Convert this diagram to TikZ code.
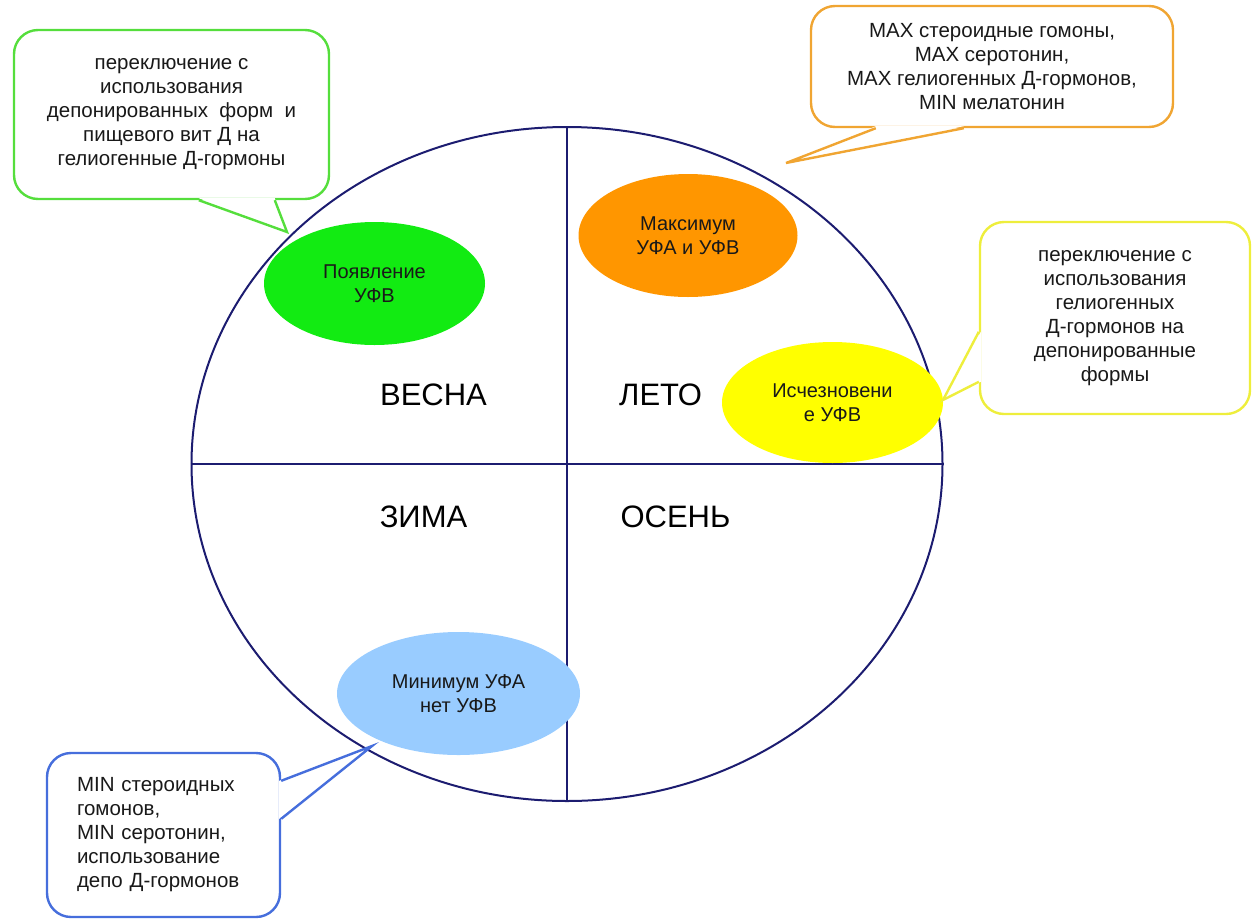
\documentclass[tikz,border=0pt]{standalone}
\usepackage{fontspec}
\setmainfont{Liberation Sans}
\usetikzlibrary{shapes.geometric}

\definecolor{ringblue}{RGB}{28,28,112}
\definecolor{textdark}{RGB}{25,25,25}
\definecolor{springfill}{RGB}{18,235,18}
\definecolor{summerfill}{RGB}{255,150,0}
\definecolor{fallfill}{RGB}{255,255,0}
\definecolor{winterfill}{RGB}{153,204,255}
\definecolor{springline}{RGB}{85,222,60}
\definecolor{summerline}{RGB}{240,165,50}
\definecolor{fallline}{RGB}{238,238,60}
\definecolor{winterline}{RGB}{70,110,220}

\tikzset{
  x=1pt, y=-1pt,
  seasonoval/.style={ellipse, inner sep=0pt, text=textdark, align=center,
    font=\fontsize{20}{24}\selectfont},
  seasonname/.style={font=\fontsize{31}{34}\selectfont, text=black, inner sep=0pt},
  callout/.style={draw=#1, fill=white, line width=2.4pt, rounded corners=24pt,
    text=textdark, font=\fontsize{20.5}{24}\selectfont, inner sep=0pt},
  tailside/.style={draw=#1, line width=2.4pt, line join=miter},
}

\begin{document}
\begin{tikzpicture}
\useasboundingbox (0,0) rectangle (1253,919);

% the year circle split into four seasons
\node[ellipse, draw=ringblue, line width=2pt, minimum width=751pt,
      minimum height=674pt, inner sep=0pt] (year) at (567,464) {};
\draw[ringblue, line width=2pt] (year.north) -- (year.south);
\draw[ringblue, line width=2pt] (year.west) -- (year.east);

\node[seasonname] (spring) at (433.5,395) {ВЕСНА};
\node[seasonname] (summer) at (660.5,395) {ЛЕТО};
\node[seasonname] (winter) at (423.5,517) {ЗИМА};
\node[seasonname] (autumn) at (675.5,517) {ОСЕНЬ};

% UV events
\node[seasonoval, fill=springfill, minimum width=221pt, minimum height=123pt]
  (uvrise) at (374.5,283.5) {Появление\\УФВ};
\node[seasonoval, fill=summerfill, minimum width=219pt, minimum height=123pt]
  (uvmax) at (688,235.5) {Максимум\\УФА и УФВ};
\node[seasonoval, fill=fallfill, minimum width=221pt, minimum height=121pt]
  (uvfade) at (832.5,402.5) {Исчезновени\\е УФВ};
\node[seasonoval, fill=winterfill, minimum width=243pt, minimum height=123pt]
  (uvmin) at (458.5,693.5) {Минимум УФА\\нет УФВ};

% spring callout
\node[callout=springline, minimum width=315pt, minimum height=169pt, align=center]
  (springnote) at (171.5,114.5)
  {переключение с\\использования\\депонированных~ форм~ и\\пищевого вит Д на\\гелиогенные Д-гормоны};
\coordinate (springtip) at (287,232);
\fill[white] ([xshift=186pt,yshift=2pt]springnote.south west) -- (springtip)
  -- ([xshift=262pt,yshift=2pt]springnote.south west) -- cycle;
\draw[tailside=springline] ([xshift=186pt]springnote.south west) -- (springtip)
  -- ([xshift=262pt]springnote.south west);

% summer callout
\node[callout=summerline, minimum width=362pt, minimum height=121pt, align=center]
  (summernote) at (992,66.5)
  {MAX стероидные гомоны,\\MAX серотонин,\\MAX гелиогенных Д-гормонов,\\MIN мелатонин};
\coordinate (summertip) at (786,163);
\fill[white] ([xshift=66pt,yshift=2pt]summernote.south west) -- (summertip)
  -- ([xshift=154pt,yshift=2pt]summernote.south west) -- cycle;
\draw[tailside=summerline] ([xshift=66pt]summernote.south west) -- (summertip)
  -- ([xshift=154pt]summernote.south west);

% autumn callout
\node[callout=fallline, minimum width=270pt, minimum height=192pt, align=center]
  (autumnnote) at (1115,318)
  {переключение с\\использования\\гелиогенных\\Д-гормонов на\\депонированные\\формы};
\coordinate (autumntip) at (943,400);
\fill[white] ([yshift=-111pt,xshift=2pt]autumnnote.north west) -- (autumntip)
  -- ([yshift=-161pt,xshift=2pt]autumnnote.north west) -- cycle;
\draw[tailside=fallline] ([yshift=-111pt]autumnnote.north west) -- (autumntip)
  -- ([yshift=-161pt]autumnnote.north west);

% winter callout
\node[callout=winterline, minimum height=164pt, text width=173pt, inner xsep=30pt,
      align=left]
  (winternote) at (163.5,835)
  {MIN стероидных\\гомонов,\\MIN серотонин,\\использование\\депо Д-гормонов};
\coordinate (wintertip) at (372,746);
\fill[white] ([yshift=-29pt,xshift=-2pt]winternote.north east) -- (wintertip)
  -- ([yshift=-67pt,xshift=-2pt]winternote.north east) -- cycle;
\draw[tailside=winterline] ([yshift=-29pt]winternote.north east) -- (wintertip)
  -- ([yshift=-67pt]winternote.north east);
\end{tikzpicture}
\end{document}
